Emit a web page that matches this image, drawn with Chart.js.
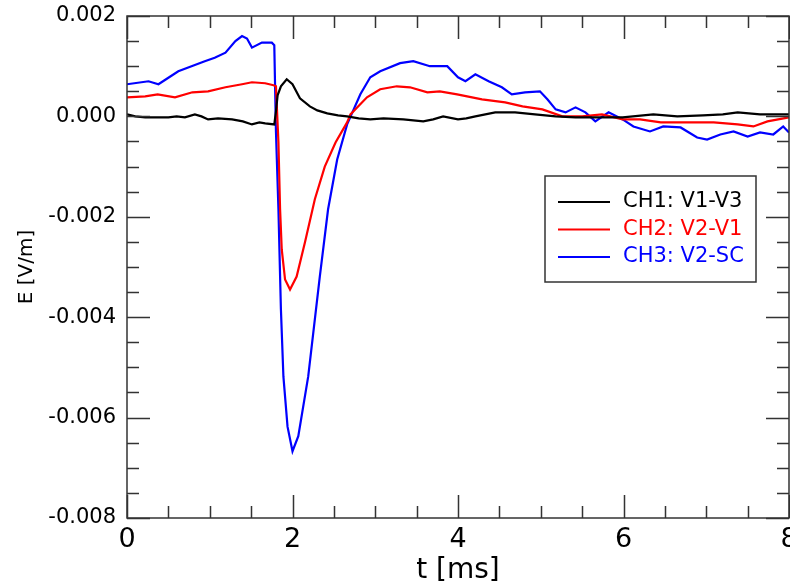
<!DOCTYPE html>
<html>
<head>
<meta charset="utf-8">
<script src="https://cdn.jsdelivr.net/npm/chart.js@4.4.1/dist/chart.umd.min.js"></script>
<style>
  html, body { margin: 0; padding: 0; background: #fff; }
  #wrap { width: 790px; height: 586px; }
</style>
</head>
<body>
<div id="wrap"><canvas id="chart" width="790" height="586"></canvas></div>
<script>
// time axis in ms, field values in units of 1e-3 V/m (converted below)
const ch1Time = [0, 0.1, 0.22, 0.37, 0.5, 0.6, 0.7, 0.82, 0.9, 0.98, 1.1, 1.27, 1.4, 1.51, 1.6, 1.67, 1.78, 1.8, 1.82, 1.86,
  1.93, 2.0, 2.09, 2.21, 2.3, 2.42, 2.55, 2.66, 2.8, 2.94, 3.1, 3.34, 3.58, 3.7, 3.82, 4.0, 4.1, 4.21, 4.45, 4.69,
  4.93, 5.18, 5.42, 5.66, 5.99, 6.36, 6.65, 6.96, 7.2, 7.38, 7.65, 8.0];
const ch1Milli = [0.04, 0, -0.02, -0.02, -0.02, 0, -0.02, 0.04, 0, -0.06, -0.04, -0.06, -0.1, -0.16, -0.12, -0.14, -0.16, 0.1, 0.42, 0.6,
  0.74, 0.64, 0.36, 0.2, 0.12, 0.06, 0.02, 0, -0.04, -0.06, -0.04, -0.06, -0.1, -0.06, 0, -0.06, -0.04, 0, 0.08, 0.08,
  0.04, 0, -0.02, -0.02, -0.02, 0.04, 0, 0.02, 0.04, 0.08, 0.04, 0.04];

const ch2Time = [0, 0.22, 0.37, 0.58, 0.79, 0.98, 1.19, 1.39, 1.51, 1.67, 1.77, 1.8, 1.83, 1.85, 1.87, 1.91, 1.97, 2.05, 2.15, 2.27,
  2.39, 2.52, 2.66, 2.7, 2.9, 3.06, 3.26, 3.42, 3.63, 3.78, 3.99, 4.29, 4.57, 4.78, 5.02, 5.26, 5.5, 5.74, 5.99, 6.2,
  6.45, 6.77, 7.09, 7.38, 7.57, 7.74, 8.0];
const ch2Milli = [0.38, 0.4, 0.44, 0.38, 0.48, 0.5, 0.58, 0.64, 0.68, 0.66, 0.62, 0.6, -0.52, -1.85, -2.65, -3.25, -3.45, -3.19, -2.51, -1.65,
  -1.0, -0.52, -0.12, 0.04, 0.38, 0.54, 0.6, 0.58, 0.48, 0.5, 0.44, 0.34, 0.28, 0.2, 0.14, 0, 0, 0.04, -0.06, -0.06,
  -0.12, -0.12, -0.12, -0.16, -0.2, -0.1, -0.02];

const ch3Time = [0, 0.26, 0.38, 0.5, 0.62, 0.78, 0.94, 1.06, 1.19, 1.31, 1.39, 1.45, 1.51, 1.63, 1.75, 1.78, 1.8, 1.83, 1.86, 1.89,
  1.94, 2.0, 2.07, 2.19, 2.33, 2.43, 2.54, 2.66, 2.82, 2.94, 3.06, 3.3, 3.46, 3.66, 3.87, 4.0, 4.09, 4.21, 4.37, 4.53,
  4.65, 4.81, 4.99, 5.08, 5.18, 5.3, 5.42, 5.54, 5.66, 5.82, 5.99, 6.12, 6.32, 6.48, 6.69, 6.89, 7.01, 7.17, 7.33, 7.5,
  7.65, 7.81, 7.93, 8.0];
const ch3Milli = [0.64, 0.7, 0.64, 0.77, 0.9, 1.0, 1.1, 1.17, 1.27, 1.5, 1.6, 1.55, 1.37, 1.47, 1.47, 1.42, -0.3, -1.85, -3.84, -5.18,
  -6.18, -6.67, -6.37, -5.18, -3.19, -1.85, -0.86, -0.16, 0.44, 0.78, 0.9, 1.06, 1.1, 1.0, 1.0, 0.78, 0.7, 0.84, 0.7, 0.58,
  0.44, 0.48, 0.5, 0.34, 0.14, 0.08, 0.18, 0.08, -0.1, 0.08, -0.06, -0.2, -0.3, -0.2, -0.22, -0.42, -0.46, -0.36, -0.3, -0.4,
  -0.32, -0.36, -0.2, -0.32];

const seriesNames = ['CH1: V1-V3', 'CH2: V2-V1', 'CH3: V2-SC'];
const seriesColors = ['#000000', '#ff0000', '#0000ff'];

const FONT = "'DejaVu Sans', 'Liberation Sans', sans-serif";
const FRAME = '#333333';

function toPoints(times, milli) {
  return times.map((t, i) => ({ x: t, y: milli[i] * 1e-3 }));
}

// frame, inward ticks on all four sides, and the boxed legend
const framePlugin = {
  id: 'frameTicks',
  afterDraw(chart) {
    const { ctx, chartArea: a } = chart;
    const xs = chart.scales.x;
    const ys = chart.scales.y;
    ctx.save();
    ctx.strokeStyle = FRAME;
    ctx.lineWidth = 1.5;

    const xMinor = [];
    for (let v = xs.min; v <= xs.max + 1e-9; v += 0.5) xMinor.push(v);
    const yMinor = [];
    for (let v = ys.min; v <= ys.max + 1e-12; v += 0.0005) yMinor.push(v);

    ctx.beginPath();
    xMinor.forEach((v) => {
      const major = Math.abs(v / 2 - Math.round(v / 2)) < 1e-6;
      const len = major ? 23 : 12;
      const px = Math.round(xs.getPixelForValue(v)) + 0.5;
      ctx.moveTo(px, a.bottom); ctx.lineTo(px, a.bottom - len);
      ctx.moveTo(px, a.top); ctx.lineTo(px, a.top + len);
    });
    yMinor.forEach((v) => {
      const major = Math.abs(v / 0.002 - Math.round(v / 0.002)) < 1e-6;
      const len = major ? 23 : 12;
      const py = Math.round(ys.getPixelForValue(v)) + 0.5;
      ctx.moveTo(a.left, py); ctx.lineTo(a.left + len, py);
      ctx.moveTo(a.right, py); ctx.lineTo(a.right - len, py);
    });
    ctx.stroke();
    ctx.strokeRect(a.left, a.top, a.right - a.left, a.bottom - a.top);

    // legend box
    const box = { x: 545, y: 176, w: 211, h: 106 };
    ctx.fillStyle = '#fff';
    ctx.fillRect(box.x, box.y, box.w, box.h);
    ctx.strokeRect(box.x, box.y, box.w, box.h);
    ctx.font = '21px ' + FONT;
    ctx.textBaseline = 'middle';
    chart.data.datasets.forEach((ds, i) => {
      const y = 202 + i * 27.5;
      ctx.strokeStyle = ds.borderColor;
      ctx.lineWidth = 2;
      ctx.beginPath();
      ctx.moveTo(558, y); ctx.lineTo(610, y);
      ctx.stroke();
      ctx.fillStyle = ds.borderColor;
      ctx.fillText(ds.label, 623, y);
    });
    ctx.restore();
  },
};

const ctx = document.getElementById('chart').getContext('2d');
new Chart(ctx, {
  type: 'line',
  data: {
    datasets: [
      { label: seriesNames[0], data: toPoints(ch1Time, ch1Milli), borderColor: seriesColors[0] },
      { label: seriesNames[1], data: toPoints(ch2Time, ch2Milli), borderColor: seriesColors[1] },
      { label: seriesNames[2], data: toPoints(ch3Time, ch3Milli), borderColor: seriesColors[2] },
    ],
  },
  options: {
    responsive: false,
    animation: false,
    layout: { padding: { top: 16, right: 1, left: 0, bottom: 0 } },
    elements: {
      point: { radius: 0 },
      line: { borderWidth: 2.2, tension: 0 },
    },
    plugins: {
      legend: { display: false },
      tooltip: { enabled: false },
    },
    scales: {
      x: {
        type: 'linear',
        min: 0,
        max: 8,
        grid: { display: false },
        border: { display: false },
        ticks: { stepSize: 2, color: '#000', padding: -2, maxRotation: 0, font: { family: FONT, size: 27 } },
        title: { display: true, text: 't [ms]', color: '#000', padding: { top: 0, bottom: -2 }, font: { family: FONT, size: 28 } },
        afterFit(scale) {
          scale.height = 68;
          scale.paddingLeft = 0;
          scale.paddingRight = 0;
        },
      },
      y: {
        min: -0.008,
        max: 0.002,
        grid: { display: false },
        border: { display: false },
        ticks: {
          stepSize: 0.002,
          color: '#000',
          padding: 3,
          font: { family: FONT, size: 21 },
          callback: (v) => (Math.abs(v) < 1e-9 ? '0.000' : Number(v).toFixed(3)),
        },
        title: { display: true, text: 'E [V/m]', color: '#000', padding: { top: 15, bottom: 0 }, font: { family: FONT, size: 20 } },
        afterFit(scale) {
          scale.width = 127;
          scale.paddingTop = 0;
          scale.paddingBottom = 0;
        },
      },
    },
  },
  plugins: [framePlugin],
});
</script>
</body>
</html>
